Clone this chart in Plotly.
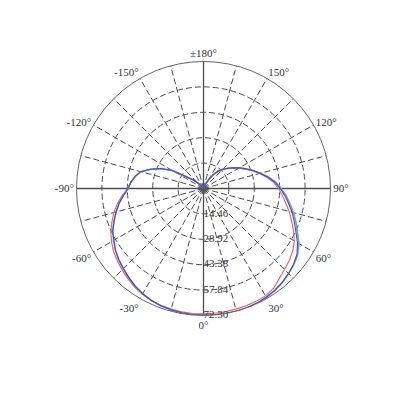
import plotly.graph_objects as go

# angles in degrees, 0 at the bottom, counterclockwise positive
angles = list(range(-180, 181, 5))

red_r = [0, 0, 0, 0, 0, 0, 0, 0.5, 1.5, 4, 7.5, 11.5, 20.5, 27, 32, 37, 39.5, 41.5,
         43, 46.5, 49.8, 52.8, 55.5, 58.2, 60.5, 62.5, 64, 65.5, 67, 68.5, 69.5, 70.3,
         70.8, 71.1, 71.3, 71.4, 71.4, 71.3, 71.2, 71.1, 71.0, 70.9, 70.6, 69.5, 67,
         65.2, 63.8, 62, 59.7, 56.5, 53.3, 50.5, 47.5, 45, 42.8, 40, 36.5, 33, 29.5,
         26, 23, 20, 17.5, 15, 12.5, 9, 5.5, 2.5, 1, 0.3, 0, 0, 0]

blue_r = [0, 0, 0, 0, 0, 0, 0, 0.5, 1.5, 4, 7.5, 11.5, 20.5, 27, 32, 37, 39.5, 41.5,
          43, 45.8, 48.8, 51.5, 54.2, 57, 59, 61.2, 63, 64.5, 66.2, 67.8, 69.2, 70.3,
          71, 71.5, 71.8, 72, 72.1, 72.2, 72.3, 72.3, 72.2, 72, 71.5, 70.8, 69.8,
          68.5, 67, 65, 61.8, 58, 55, 52.2, 49.2, 46.5, 43.7, 40.8, 37.2, 33.5, 30,
          26.5, 23.5, 20.5, 18, 15.5, 13, 9.5, 6, 3, 1, 0.3, 0, 0, 0]

teal_r = [0, 0, 0, 0, 0, 0, 0, 0.5, 1.5, 4, 7.5, 11.5, 20.5, 27, 32, 37, 39.5, 41.5,
          43, 45.8, 48.8, 51.5, 54.2, 57, 59, 61.2, 63, 64.5, 66.2, 67.8, 69.2, 70.3,
          71, 71.5, 71.8, 72, 72.1, 72.2, 72.3, 72.3, 72.2, 72, 71.5, 70.8, 69.8,
          68.5, 67.2, 65.5, 62.8, 59, 56, 53, 50, 47.2, 44.2, 41.3, 37.5, 33.7, 30,
          26.5, 23.5, 20.5, 18, 15.5, 13, 9.5, 6, 3, 1, 0.3, 0, 0, 0]

radial_ticks = [14.46, 28.92, 43.38, 57.84, 72.30]
radial_labels = ['14.46', '28.92', '43.38', '57.84', '72.30']
# angular grid every 15 degrees, labels every 30
angle_ticks = list(range(0, 360, 15))
angle_labels = {0: '0°', 30: '30°', 60: '60°', 90: '90°', 120: '120°', 150: '150°',
                180: '±180°', 210: '-150°', 240: '-120°', 270: '-90°',
                300: '-60°', 330: '-30°'}
axis_angles = [0, 90, 180, 270]

W = 384
fig = go.Figure()

# solid cross through the centre
for a in axis_angles:
    fig.add_trace(go.Scatterpolar(r=[0, radial_ticks[-1]], theta=[a, a], mode='lines',
                                  line=dict(color='#4d4d4d', width=1.3),
                                  hoverinfo='skip', showlegend=False))

fig.add_trace(go.Scatterpolar(r=red_r, theta=angles, mode='lines',
                              line=dict(color='#e0606e', width=1.1), showlegend=False))
fig.add_trace(go.Scatterpolar(r=teal_r, theta=angles, mode='lines',
                              line=dict(color='#6fa8b8', width=1.6), showlegend=False))
fig.add_trace(go.Scatterpolar(r=blue_r, theta=angles, mode='lines',
                              line=dict(color='#4848c0', width=1.1), showlegend=False))

# radial values written along the 0 degree spoke
fig.add_trace(go.Scatterpolar(r=radial_ticks, theta=[0] * len(radial_ticks), mode='text',
                              text=radial_labels, textposition='middle right',
                              textfont=dict(family='Liberation Serif', size=11, color='#333333'),
                              hoverinfo='skip', showlegend=False))

fig.update_layout(
    width=W, height=W, autosize=False,
    margin=dict(l=0, r=0, t=0, b=0),
    paper_bgcolor='white',
    font=dict(family='Liberation Serif', size=11, color='#333333'),
    polar=dict(
        domain=dict(x=[68.5 / W, 322.5 / W], y=[1 - 307.5 / W, 1 - 53.5 / W]),
        bgcolor='white',
        angularaxis=dict(
            rotation=270, direction='counterclockwise',
            tickmode='array', tickvals=angle_ticks,
            ticktext=[angle_labels.get(a, '') for a in angle_ticks],
            ticks='', showline=True, linecolor='#666666', linewidth=1,
            showgrid=True, gridcolor='#4d4d4d', gridwidth=1.4, griddash='6px,3px',
        ),
        radialaxis=dict(
            range=[0, radial_ticks[-1]], angle=-90,
            tickmode='array', tickvals=radial_ticks,
            showticklabels=False, ticks='', showline=False,
            showgrid=True, gridcolor='#4d4d4d', gridwidth=1.4, griddash='6px,3px',
        ),
    ),
)

fig.write_html("out.html")
